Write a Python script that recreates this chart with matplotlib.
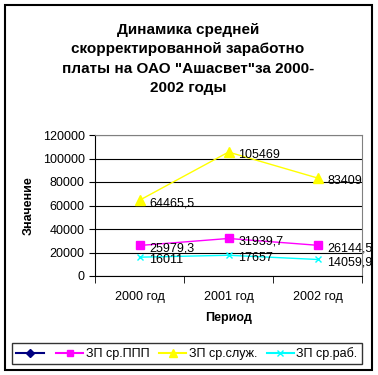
import matplotlib
matplotlib.use("Agg")
import matplotlib.pyplot as plt
from matplotlib.patches import Rectangle
from matplotlib.lines import Line2D

plt.rcParams['font.family'] = ['Liberation Sans', 'DejaVu Sans']

years = ["2000 год", "2001 год", "2002 год"]
zp_ppp = [25979.3, 31939.7, 26144.5]
zp_sluzh = [64465.5, 105469, 83409]
zp_rab = [16011, 17657, 14059.9]
series_names = ["", "ЗП ср.ППП", "ЗП ср.служ.", "ЗП ср.раб."]

def fmt(v):
    s = ("%.1f" % v).rstrip("0").rstrip(".")
    return s.replace(".", ",")

fig = plt.figure(figsize=(3.78, 3.75), dpi=100)
fig.patches.append(Rectangle((5/378, 5/375), 367/378, 365/375, transform=fig.transFigure,
                             fill=False, edgecolor='black', lw=1.5))

ax = fig.add_axes([95/378, 99/375, 267/378, 141/375])
x = range(len(years))

ax.plot(x, zp_ppp, color='magenta', marker='s', markersize=6, lw=1)
ax.plot(x, zp_sluzh, color='yellow', marker='^', markersize=7, lw=1)
ax.plot(x, zp_rab, color='cyan', marker='x', markersize=5, lw=1, mew=1)

for vals in (zp_ppp, zp_sluzh, zp_rab):
    for i, v in enumerate(vals):
        ax.annotate(fmt(v), (i, v), xytext=(7, -2), textcoords='offset points',
                    ha='left', va='center', fontsize=9)

ax.set_xlim(-0.5, 2.5)
ax.set_ylim(0, 120000)
ax.set_yticks(range(0, 120001, 20000))
ax.yaxis.grid(True, color='black', lw=0.8)
ax.set_axisbelow(True)
ax.set_xticks(list(x))
ax.set_xticklabels(years)
ax.set_xticks([-0.5, 0.5, 1.5, 2.5], minor=True)
ax.tick_params(axis='x', which='major', length=0, pad=11, labelsize=9)
ax.tick_params(axis='x', which='minor', length=5, direction='out')
ax.tick_params(axis='y', length=4, labelsize=9)
for s in ('top', 'right'):
    ax.spines[s].set_color('gray')
ax.set_xlabel("Период", fontsize=9, fontweight='bold', labelpad=6)
ax.set_ylabel("Значение", fontsize=9, fontweight='bold', labelpad=6)

fig.text(0.497, 0.939, "Динамика средней\nскорректированной заработно\nплаты на ОАО \"Ашасвет\"за 2000-\n2002 годы",
         ha='center', va='top', fontsize=11, fontweight='bold', linespacing=1.5)

handles = [
    Line2D([], [], color='navy', marker='D', markersize=4),
    Line2D([], [], color='magenta', marker='s', markersize=5),
    Line2D([], [], color='yellow', marker='^', markersize=6),
    Line2D([], [], color='cyan', marker='x', markersize=4),
]
leg = fig.legend(handles, series_names, loc='center', bbox_to_anchor=(187/378, 1 - 353.5/375),
                 ncol=4, fontsize=9, frameon=True, fancybox=False, edgecolor='black',
                 handlelength=2.2, handletextpad=0.2, columnspacing=0.75, borderpad=0.35,
                 borderaxespad=0)
leg.get_frame().set_linewidth(1)

fig.savefig("out.png", dpi=100)
